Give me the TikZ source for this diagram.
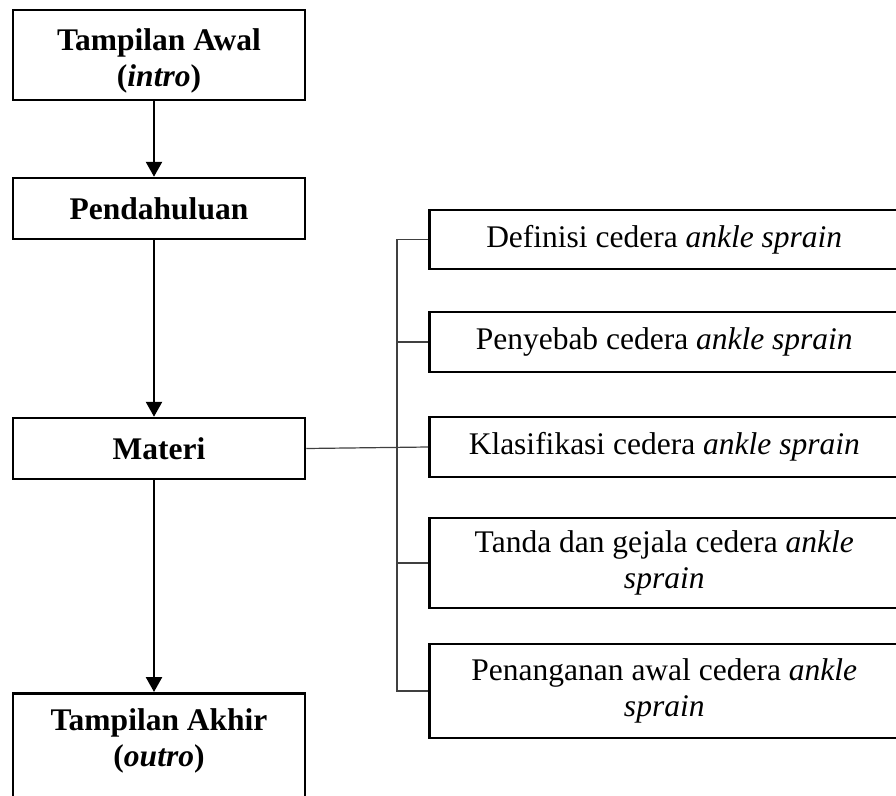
\documentclass[tikz,border=0pt]{standalone}
\usepackage{fontspec}
\setmainfont{Liberation Serif}
\usetikzlibrary{arrows.meta}
\begin{document}
\begin{tikzpicture}[x=1pt,y=-1pt,
  lbox/.style={draw, line width=2.5pt, minimum width=292pt, align=center, font=\fontsize{31.5}{36}\selectfont\bfseries, inner sep=0pt},
  ltext/.style={align=center, font=\fontsize{31.5}{36}\selectfont\bfseries, inner sep=0pt},
  rbox/.style={draw, line width=2.5pt, minimum width=470pt, align=center, font=\fontsize{31.5}{36}\selectfont, inner sep=0pt, anchor=west},
  flow/.style={line width=2.5pt, -{Triangle[width=16pt,length=15pt]}},
  link/.style={line width=1.2pt, black!75}]
\useasboundingbox (0,0) rectangle (896,795);
\clip (0,0) rectangle (896,795);
% left column
\node[lbox, minimum height=90pt] (L1) at (159,55) {};
\node[ltext] (L1t) at (159,61) {Tampilan Awal\\(\textit{intro})};
\node[lbox, minimum height=61pt] (L2) at (159,208.5) {Pendahuluan};
\node[lbox, minimum height=61pt] (L3) at (159,448.5) {Materi};
\node[lbox, minimum height=150pt, anchor=north] (L4) at (159,692) {};
\node[ltext] (L4t) at (159,741) {Tampilan Akhir\\(\textit{outro})};
% arrows
\draw[flow] ([xshift=-5pt]L1.south) -- ([xshift=-5pt]L2.north);
\draw[flow] ([xshift=-5pt]L2.south) -- ([xshift=-5pt]L3.north);
\draw[flow] ([xshift=-5pt]L3.south) -- ([xshift=-5pt]L4.north);
% right column
\node[rbox, minimum height=59pt] (R1) at (428,239.5) {Definisi cedera \textit{ankle sprain}};
\node[rbox, minimum height=60pt] (R2) at (428,342) {Penyebab cedera \textit{ankle sprain}};
\node[rbox, minimum height=60pt] (R3) at (428,447) {Klasifikasi cedera \textit{ankle sprain}};
\node[rbox, minimum height=90pt] (R4) at (428,563) {Tanda dan gejala cedera \textit{ankle}\\\textit{sprain}};
\node[rbox, minimum height=94pt] (R5) at (428,691) {Penanganan awal cedera \textit{ankle}\\\textit{sprain}};
% bracket connectors
\coordinate (bx) at (397,0);
\draw[link] (L3.east) -- (R3.west);
\draw[link] (R1.west) -- (R1.west -| bx) -- (R5.west -| bx) -- (R5.west);
\draw[link] (R2.west) -- (R2.west -| bx);
\draw[link] (R4.west) -- (R4.west -| bx);
\end{tikzpicture}
\end{document}
